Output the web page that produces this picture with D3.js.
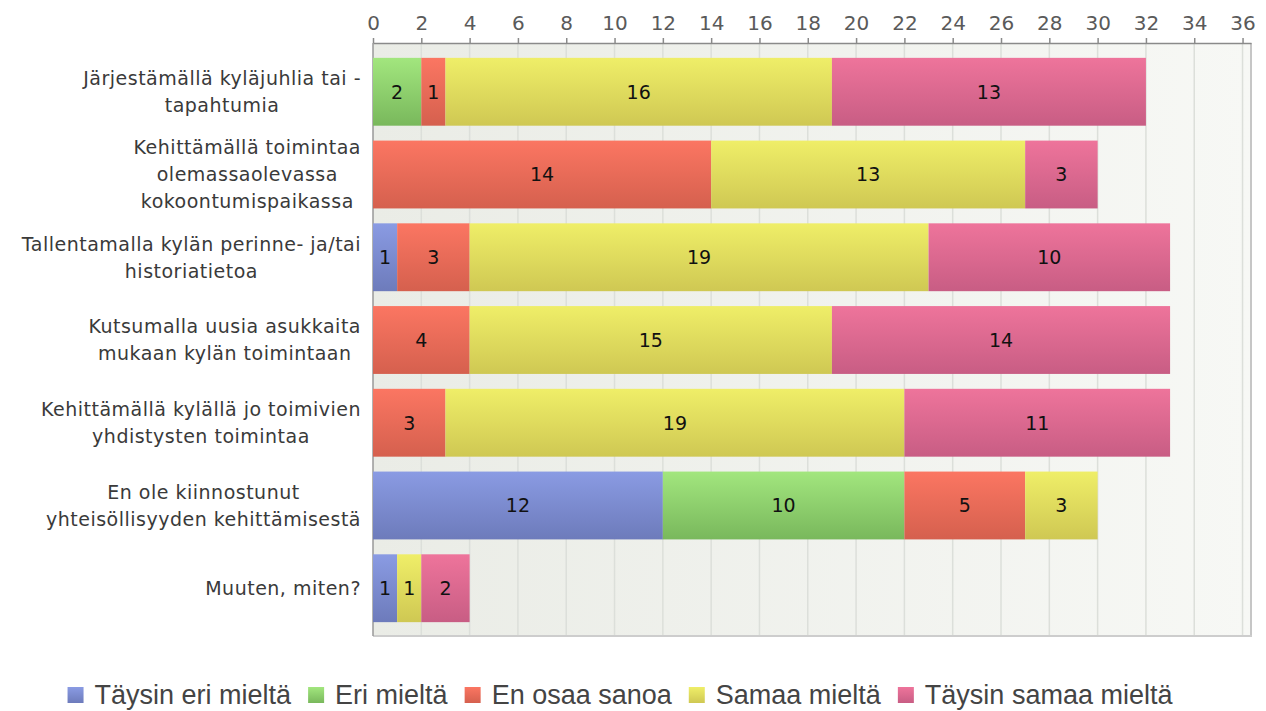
<!DOCTYPE html>
<html>
<head>
<meta charset="utf-8">
<script src="https://cdn.jsdelivr.net/npm/d3@7"></script>
<style>
  body { margin: 0; background: #fff; }
  svg { display: block; }
</style>
</head>
<body>
<svg id="chart" width="1266" height="711"></svg>
<script>
// categories, each split into its printed lines
var categories = [
  ["Järjestämällä kyläjuhlia tai -", "tapahtumia"],
  ["Kehittämällä toimintaa", "olemassaolevassa", "kokoontumispaikassa"],
  ["Tallentamalla kylän perinne- ja/tai", "historiatietoa"],
  ["Kutsumalla uusia asukkaita", "mukaan kylän toimintaan"],
  ["Kehittämällä kylällä jo toimivien", "yhdistysten toimintaa"],
  ["En ole kiinnostunut", "yhteisöllisyyden kehittämisestä"],
  ["Muuten, miten?"]
];
var seriesNames = ["Täysin eri mieltä", "Eri mieltä", "En osaa sanoa", "Samaa mieltä", "Täysin samaa mieltä"];
var taysinEri  = [0, 0, 1, 0, 0, 12, 1];
var eri        = [2, 0, 0, 0, 0, 10, 0];
var enOsaa     = [1, 14, 3, 4, 3, 5, 0];
var samaa      = [16, 13, 19, 15, 19, 3, 1];
var taysinSam  = [13, 3, 10, 14, 11, 0, 2];
var tickValues = d3.range(0, 37, 2);

var colorTop = ["#8a9be3", "#a2e67e", "#fb7662", "#efee68", "#ee749b"];
var colorBot = ["#6d7bbb", "#79b85c", "#d5604e", "#cfc853", "#c85d84"];

var svg = d3.select("#chart");
var plotLeft = 373, plotRight = 1251, plotTop = 43, plotBottom = 636;

var x = d3.scaleLinear().domain([0, 36.35]).range([plotLeft, plotRight]);
var y = d3.scaleBand().domain(d3.range(categories.length))
  .range([50.4, 629.6]).paddingInner(0.18).paddingOuter(0.09);

var defs = svg.append("defs");
var bg = defs.append("linearGradient").attr("id", "bg").attr("x1", 0).attr("x2", 1).attr("y1", 0).attr("y2", 0);
bg.append("stop").attr("offset", "0%").attr("stop-color", "#eaece6");
bg.append("stop").attr("offset", "100%").attr("stop-color", "#f7f8f5");
seriesNames.forEach(function(s, i) {
  var g = defs.append("linearGradient").attr("id", "g" + i)
    .attr("x1", 0).attr("x2", 0).attr("y1", 0).attr("y2", 1);
  g.append("stop").attr("offset", "0%").attr("stop-color", colorTop[i]);
  g.append("stop").attr("offset", "100%").attr("stop-color", colorBot[i]);
});

// plot background
svg.append("rect").attr("x", plotLeft).attr("y", plotTop)
  .attr("width", plotRight - plotLeft).attr("height", plotBottom - plotTop)
  .attr("fill", "url(#bg)");

// grid
svg.append("g").selectAll("line").data(tickValues.filter(function(d) { return d > 0; }))
  .enter().append("line")
  .attr("x1", function(d) { return x(d); }).attr("x2", function(d) { return x(d); })
  .attr("y1", plotTop).attr("y2", plotBottom)
  .attr("stroke", "#dcdfda").attr("stroke-width", 1.5);

// borders
svg.append("line").attr("x1", plotRight).attr("x2", plotRight).attr("y1", plotTop).attr("y2", plotBottom + 1)
  .attr("stroke", "#c6c6c6").attr("stroke-width", 2);
svg.append("line").attr("x1", plotLeft).attr("x2", plotRight + 1).attr("y1", plotBottom).attr("y2", plotBottom)
  .attr("stroke", "#cdcdcd").attr("stroke-width", 2);
svg.append("line").attr("x1", plotLeft).attr("x2", plotLeft).attr("y1", plotTop).attr("y2", plotBottom)
  .attr("stroke", "#999").attr("stroke-width", 1.5);

// top axis
var axis = svg.append("g").attr("transform", "translate(0," + plotTop + ")")
  .call(d3.axisTop(x).tickValues(tickValues).tickSize(5).tickSizeOuter(0).tickPadding(8));
axis.select(".domain").attr("stroke", "#8a8a8a").attr("stroke-width", 1.5);
axis.selectAll(".tick line").attr("stroke", "#8a8a8a").attr("stroke-width", 1.5);
axis.selectAll("text").attr("fill", "#5a5a5a").style("font-family", "DejaVu Sans")
  .style("font-size", "20px");

// stacked data
var rows = categories.map(function(c, i) {
  return [taysinEri[i], eri[i], enOsaa[i], samaa[i], taysinSam[i]];
});
var segs = [];
rows.forEach(function(r, i) {
  var acc = 0;
  r.forEach(function(v, k) {
    if (v > 0) segs.push({row: i, k: k, v: v, x0: acc, x1: acc + v});
    acc += v;
  });
});

var bars = svg.append("g");
bars.selectAll("rect").data(segs).enter().append("rect")
  .attr("x", function(d) { return x(d.x0); })
  .attr("width", function(d) { return x(d.x1) - x(d.x0); })
  .attr("y", function(d) { return y(d.row); })
  .attr("height", y.bandwidth())
  .attr("fill", function(d) { return "url(#g" + d.k + ")"; });

bars.selectAll("text").data(segs).enter().append("text")
  .attr("x", function(d) { return (x(d.x0) + x(d.x1)) / 2; })
  .attr("y", function(d) { return y(d.row) + y.bandwidth() / 2; })
  .attr("dy", "0.36em").attr("text-anchor", "middle")
  .style("font-family", "DejaVu Sans").style("font-size", "19px").attr("fill", "#111")
  .text(function(d) { return d.v; });

// category labels, centered block, widest line right aligned
var labels = svg.append("g");
categories.forEach(function(lines, i) {
  var g = labels.append("g");
  var cy = y(i) + y.bandwidth() / 2;
  var t = g.selectAll("text").data(lines).enter().append("text")
    .attr("y", function(d, j) { return cy + (j - (lines.length - 1) / 2) * 27; })
    .attr("dy", "0.36em").attr("text-anchor", "middle")
    .style("font-family", "DejaVu Sans").style("font-size", "19px")
    .style("letter-spacing", "0.5px").attr("fill", "#3a3a3a")
    .text(function(d) { return d; });
  var w = d3.max(t.nodes(), function(n) { return n.getComputedTextLength(); });
  t.attr("x", 361 - w / 2);
});

// legend
var legend = svg.append("g");
var lx = 0;
seriesNames.forEach(function(s, i) {
  var item = legend.append("g").attr("transform", "translate(" + lx + ",0)");
  item.append("rect").attr("x", 0).attr("y", -8).attr("width", 16).attr("height", 16)
    .attr("fill", "url(#g" + i + ")");
  var t = item.append("text").attr("x", 27).attr("y", 0).attr("dy", "0.35em")
    .style("font-family", "Liberation Sans").style("font-size", "27px").attr("fill", "#444")
    .text(s);
  lx += 27 + t.node().getComputedTextLength() + 17;
});
legend.attr("transform", "translate(" + (620 - (lx - 17) / 2) + ",695)");
</script>
</body>
</html>
